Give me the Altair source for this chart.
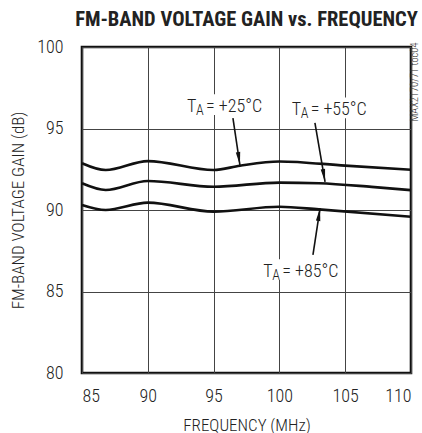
import math
import altair as alt
import pandas as pd

# ---- data ----
freq_25 = [85, 86.8, 90, 95, 97, 100, 105, 110]
gain_25 = [92.87, 92.45, 93.0, 92.45, 92.72, 92.98, 92.72, 92.47]

freq_55 = [85, 86.8, 90, 95, 100, 103, 107, 110]
gain_55 = [91.64, 91.23, 91.78, 91.43, 91.68, 91.64, 91.42, 91.22]

freq_85 = [85, 86.8, 90, 95, 100, 103, 110]
gain_85 = [90.31, 90.0, 90.45, 89.90, 90.20, 90.04, 89.59]

series_names = ["+25°C", "+55°C", "+85°C"]

# annotation labels (left edge / baseline, data units) and arrows
label_text = ["= +25°C", "= +55°C", "= +85°C"]
label_x = [92.98, 100.93, 98.78]
label_y = [96.03, 95.83, 85.91]

arrow_x1 = [96.47, 102.70, 102.55]
arrow_y1 = [95.64, 95.34, 87.24]
arrow_x2 = [97.00, 103.47, 103.09]
arrow_y2 = [92.76, 91.72, 90.12]

x_ticks = [85, 90, 95, 100, 105, 110]
y_ticks = [80, 85, 90, 95, 100]

W, H = 329, 326
FONT = "Liberation Sans Narrow, Roboto Condensed, DejaVu Sans Condensed, sans-serif"
LW = 300

rows = []
for name, fx, gy in [(series_names[0], freq_25, gain_25),
                     (series_names[1], freq_55, gain_55),
                     (series_names[2], freq_85, gain_85)]:
    for f, g in zip(fx, gy):
        rows.append({"series": name, "freq": f, "gain": g})
curves = pd.DataFrame(rows)

angles = []
for x1, y1, x2, y2 in zip(arrow_x1, arrow_y1, arrow_x2, arrow_y2):
    dx = (x2 - x1) * W / 25.0
    dy = -(y2 - y1) * H / 20.0
    angles.append(math.degrees(math.atan2(dx, -dy)) % 360)

arrows = pd.DataFrame({"x1": arrow_x1, "y1": arrow_y1, "x2": arrow_x2,
                       "y2": arrow_y2, "angle": angles})
labels = pd.DataFrame({"x": label_x, "y": label_y, "text": label_text,
                       "T": ["T"] * 3, "A": ["A"] * 3})

xs = alt.Scale(domain=[85, 110], nice=False, zero=False)
ys = alt.Scale(domain=[80, 100], nice=False, zero=False)

base_x = alt.X("freq:Q", scale=xs,
               axis=alt.Axis(values=x_ticks, title="FREQUENCY (MHz)",
                             labelPadding=14, titleX=W / 2, titleY=52,
                             titleBaseline="middle"))
base_y = alt.Y("gain:Q", scale=ys,
               axis=alt.Axis(values=y_ticks, title="FM-BAND VOLTAGE GAIN (dB)",
                             labelPadding=19, titleX=-64, titleY=H / 2,
                             titleBaseline="middle", titleAngle=-90))

lines = alt.Chart(curves).mark_line(
    interpolate="monotone", color="#111", strokeWidth=2.6
).encode(x=base_x, y=base_y, detail="series:N")

rect_path = "M-1,-0.26 L1,-0.26 L1,0.26 L-1,0.26 Z"
boxes = alt.Chart(labels).mark_point(
    shape=rect_path, filled=True, fill="white", opacity=1, strokeWidth=0,
    size=6400, xOffset=37, yOffset=-7
).encode(x=alt.X("x:Q", scale=xs), y=alt.Y("y:Q", scale=ys))

shafts = alt.Chart(arrows).mark_rule(color="#111", strokeWidth=1.6).encode(
    x=alt.X("x1:Q", scale=xs), y=alt.Y("y1:Q", scale=ys),
    x2="x2:Q", y2="y2:Q")

head_path = "M0,0 L-0.34,2 L0.34,2 Z"
heads = alt.Chart(arrows).mark_point(
    shape=head_path, filled=True, color="#111", opacity=1, size=169
).encode(x=alt.X("x2:Q", scale=xs), y=alt.Y("y2:Q", scale=ys),
         angle=alt.Angle("angle:Q", scale=None))

t_text = alt.Chart(labels).mark_text(
    align="left", baseline="alphabetic", font=FONT, fontSize=18, color="#222",
    fontWeight=LW
).encode(x=alt.X("x:Q", scale=xs), y=alt.Y("y:Q", scale=ys), text="T:N")
a_text = alt.Chart(labels).mark_text(
    align="left", baseline="alphabetic", font=FONT, fontSize=14, color="#222",
    dx=9, dy=3, fontWeight=LW
).encode(x=alt.X("x:Q", scale=xs), y=alt.Y("y:Q", scale=ys), text="A:N")
rest_text = alt.Chart(labels).mark_text(
    align="left", baseline="alphabetic", font=FONT, fontSize=18, color="#222",
    dx=19, fontWeight=LW
).encode(x=alt.X("x:Q", scale=xs), y=alt.Y("y:Q", scale=ys), text="text:N")

wm = alt.Chart(pd.DataFrame({"t": ["MAX2170/71 toc04"]})).mark_text(
    angle=270, font=FONT, fontSize=10.5, color="#333", baseline="middle",
    fontWeight=LW
).encode(text="t:N", x=alt.value(W + 4), y=alt.value(35))

chart = alt.layer(lines, boxes, shafts, heads, t_text, a_text, rest_text, wm).properties(
    width=W, height=H,
    autosize=alt.AutoSizeParams(type="none"),
    padding={"left": 82, "top": 47, "right": 11, "bottom": 60},
    title=alt.TitleParams("FM-BAND VOLTAGE GAIN vs. FREQUENCY", font=FONT,
                          fontSize=20.5, fontWeight="bold", color="#222",
                          anchor="middle", offset=8),
).configure_view(stroke="#111", strokeWidth=2.6).configure_axis(
    grid=True, gridColor="#444", gridWidth=1, domain=False, ticks=False,
    tickSize=0, labelFont=FONT, labelFontSize=18, labelColor="#222",
    labelFontWeight=LW,
    titleFont=FONT, titleFontSize=17, titleFontWeight=LW, titleColor="#222"
)

chart.save("out.html", embed_options={"renderer": "svg", "actions": False})
